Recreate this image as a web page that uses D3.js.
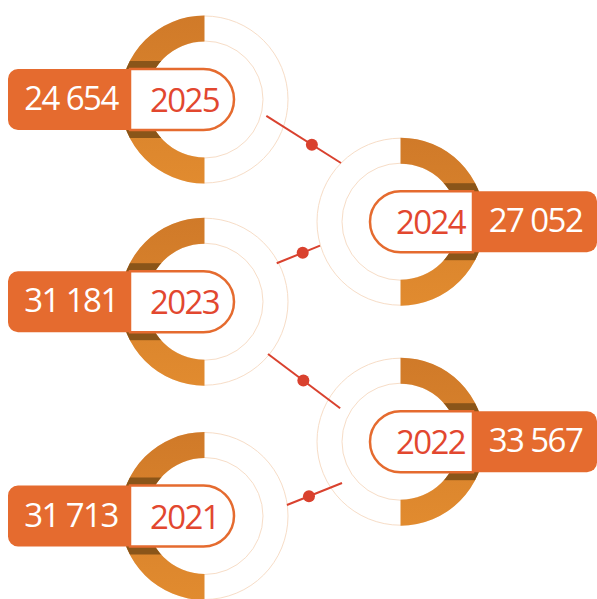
<!DOCTYPE html>
<html><head><meta charset="utf-8">
<script src="https://cdn.jsdelivr.net/npm/d3@7"></script>
<style>html,body{margin:0;padding:0;background:#fff;}svg{display:block;}</style>
</head><body>
<svg id="chart" width="597" height="599"></svg>
<script>
// ---- data ----
const years  = ["2025", "2024", "2023", "2022", "2021"];
const values = [24654, 27052, 31181, 33567, 31713];

// ---- layout (decorative) ----
const sides   = ["left", "right", "left", "right", "left"];
const rowY    = [99.5, 221.7, 301.7, 441.7, 516];
const colX    = {left: 204.5, right: 400.5};
// connectors: [fromIndex, angleDeg, radius, toIndex, angleDeg, radius, dotFraction]
const links = [
  [0, 14.9, 64, 1, 224.6, 83.6, 0.61],
  [2, -28, 81.8, 1, 163.4, 84, 0.6],
  [2, 39.5, 82.3, 3, 209, 69, 0.49],
  [4, -7.6, 83.2, 3, 144.8, 71.6, 0.4]
];

const R = 84, r0 = 58, H = 30.5;
const C = {orange: "#E56B2F", ringTop: "#D07A29", ringBot: "#E18B2F", band: "#8A5519",
           red: "#D9412E", year: "#E2472F", thin: "#F7DDC7"};

const fmt = d3.formatLocale({decimal: ",", thousands: " ", grouping: [3], currency: ["", ""]}).format(",d");

const svg = d3.select("#chart");
const defs = svg.append("defs");
const grad = defs.append("linearGradient").attr("id", "rg").attr("x1", 0).attr("y1", 0).attr("x2", 0).attr("y2", 1);
grad.append("stop").attr("offset", 0).attr("stop-color", C.ringTop);
grad.append("stop").attr("offset", 1).attr("stop-color", C.ringBot);

const items = years.map((y, i) => ({year: y, value: values[i], side: sides[i], cx: colX[sides[i]], cy: rowY[i], i}));

const arc = d3.arc().innerRadius(r0).outerRadius(R);
const halfLeft = {startAngle: Math.PI, endAngle: 2 * Math.PI};
const halfRight = {startAngle: 0, endAngle: Math.PI};

// rings
const rings = svg.append("g").selectAll("g").data(items).join("g")
  .attr("transform", d => `translate(${d.cx},${d.cy})`);
rings.append("circle").attr("r", R - 0.5).attr("fill", "none").attr("stroke", C.thin).attr("stroke-width", 1);
rings.append("circle").attr("r", r0 + 0.5).attr("fill", "none").attr("stroke", C.thin).attr("stroke-width", 1);
rings.each(function(d) {
  const g = d3.select(this);
  const p = arc(d.side === "left" ? halfLeft : halfRight);
  defs.append("clipPath").attr("id", "clip" + d.i).append("path").attr("d", p);
  g.append("path").attr("d", p).attr("fill", "url(#rg)");
  g.append("rect").attr("clip-path", `url(#clip${d.i})`)
    .attr("x", -R).attr("width", 2 * R).attr("y", -H - 8).attr("height", 2 * H + 16).attr("fill", C.band);
});

// connectors
const rad = a => a * Math.PI / 180;
const pt = (i, a, rr) => [items[i].cx + rr * Math.cos(rad(a)), items[i].cy + rr * Math.sin(rad(a))];
const lg = svg.append("g");
links.forEach(l => {
  const a = pt(l[0], l[1], l[2]), b = pt(l[3], l[4], l[5]);
  lg.append("line").attr("x1", a[0]).attr("y1", a[1]).attr("x2", b[0]).attr("y2", b[1])
    .attr("stroke", C.red).attr("stroke-width", 2);
  lg.append("circle").attr("cx", a[0] + (b[0] - a[0]) * l[6]).attr("cy", a[1] + (b[1] - a[1]) * l[6])
    .attr("r", 6).attr("fill", C.red);
});

// labels
const labels = svg.append("g").selectAll("g").data(items).join("g")
  .attr("transform", d => `translate(${d.cx},${d.cy})`);

function pillPath(side) {
  const p = d3.path();
  if (side === "left") {
    const x0 = -74.5, xr = 29.5;
    p.moveTo(x0, -H); p.lineTo(xr - H, -H);
    p.arc(xr - H, 0, H, -Math.PI / 2, Math.PI / 2, false);
    p.lineTo(x0, H); p.closePath();
  } else {
    const x1 = 72.5, xl = -30.5;
    p.moveTo(x1, -H); p.lineTo(xl + H, -H);
    p.arc(xl + H, 0, H, -Math.PI / 2, Math.PI / 2, true);
    p.lineTo(x1, H); p.closePath();
  }
  return p.toString();
}
function boxPath(side) {
  const p = d3.path(), k = 10;
  if (side === "left") {
    const x0 = -196.5, x1 = -74.5;
    p.moveTo(x1, -H); p.lineTo(x0 + k, -H); p.arcTo(x0, -H, x0, -H + k, k);
    p.lineTo(x0, H - k); p.arcTo(x0, H, x0 + k, H, k); p.lineTo(x1, H); p.closePath();
  } else {
    const x0 = 72.5, x1 = 196.5;
    p.moveTo(x0, -H); p.lineTo(x1 - k, -H); p.arcTo(x1, -H, x1, -H + k, k);
    p.lineTo(x1, H - k); p.arcTo(x1, H, x1 - k, H, k); p.lineTo(x0, H); p.closePath();
  }
  return p.toString();
}
labels.append("path").attr("d", d => pillPath(d.side)).attr("fill", "#fff")
  .attr("stroke", C.orange).attr("stroke-width", 2.5);
labels.append("path").attr("d", d => boxPath(d.side)).attr("fill", C.orange);

const font = "'Open Sans', 'Noto Sans', sans-serif";
labels.append("text")
  .attr("x", d => d.side === "left" ? -133.5 : 135)
  .attr("y", 10.5)
  .attr("text-anchor", "middle").attr("font-family", font).attr("font-size", 33)
  .attr("letter-spacing", -1.6).attr("fill", "#fff")
  .text(d => fmt(d.value));
labels.append("text")
  .attr("x", d => d.side === "left" ? -20 : 30)
  .attr("y", 12.5)
  .attr("text-anchor", "middle").attr("font-family", font).attr("font-size", 33)
  .attr("letter-spacing", -1.6).attr("fill", C.year)
  .text(d => d.year);
</script>
</body></html>
